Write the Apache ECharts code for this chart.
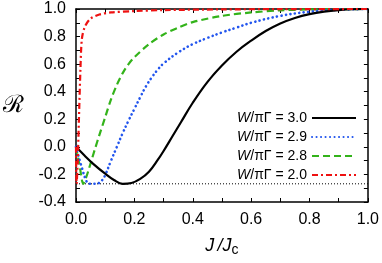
<!DOCTYPE html>
<html><head><meta charset="utf-8">
<script src="https://cdn.jsdelivr.net/npm/echarts@6/dist/echarts.min.js"></script>
<style>html,body{margin:0;padding:0;background:#fff}#c{width:382px;height:263px}</style>
</head><body><div id="c"></div>
<script>
// Data
var seriesNames = ['3.0', '2.9', '2.8', '2.0'];
var jBlack = [0, 0.03, 0.06, 0.1, 0.13, 0.16, 0.19, 0.22, 0.25, 0.28, 0.3, 0.33, 0.36, 0.4, 0.45, 0.5, 0.55, 0.6, 0.65, 0.7, 0.75, 0.8, 0.85, 0.9, 0.95, 1.0];
var rBlack = [0, -0.065, -0.125, -0.195, -0.24, -0.268, -0.262, -0.232, -0.18, -0.095, -0.03, 0.075, 0.18, 0.32, 0.47, 0.59, 0.69, 0.77, 0.84, 0.895, 0.935, 0.963, 0.981, 0.992, 0.998, 1.0];
var jBlue = [0, 0.02, 0.035, 0.045, 0.06, 0.075, 0.09, 0.1, 0.12, 0.14, 0.16, 0.18, 0.2, 0.22, 0.24, 0.26, 0.28, 0.3, 0.35, 0.4, 0.45, 0.5, 0.55, 0.6, 0.7, 0.8, 0.9, 1.0];
var rBlue = [0, -0.15, -0.245, -0.268, -0.268, -0.265, -0.24, -0.205, -0.1, 0.0, 0.1, 0.19, 0.275, 0.36, 0.44, 0.505, 0.56, 0.605, 0.685, 0.745, 0.79, 0.83, 0.865, 0.9, 0.95, 0.98, 0.995, 1.0];
var jGreen = [0, 0.012, 0.025, 0.035, 0.045, 0.055, 0.065, 0.08, 0.1, 0.12, 0.14, 0.16, 0.18, 0.2, 0.25, 0.3, 0.35, 0.4, 0.5, 0.6, 0.7, 0.8, 1.0];
var rGreen = [0, -0.13, -0.268, -0.22, -0.155, -0.085, -0.015, 0.085, 0.215, 0.345, 0.45, 0.535, 0.6, 0.65, 0.745, 0.815, 0.865, 0.905, 0.95, 0.975, 0.99, 0.997, 1.0];
var jRed = [0, 0.002, 0.006, 0.01, 0.015, 0.02, 0.03, 0.05, 0.08, 0.12, 0.2, 0.3, 0.5, 0.7, 1.0];
var rRed = [0, -0.268, -0.1, 0.2, 0.55, 0.78, 0.87, 0.93, 0.96, 0.975, 0.985, 0.992, 0.997, 0.999, 1.0];
var rMinLine = -0.268;
var xTicks = [0, 0.2, 0.4, 0.6, 0.8, 1.0];
var yTicks = [-0.4, -0.2, 0, 0.2, 0.4, 0.6, 0.8, 1.0];

function pairs(xs, ys) { return xs.map(function (x, i) { return [x, ys[i]]; }); }

var chart = echarts.init(document.getElementById('c'), null, {renderer: 'canvas'});
var font = 'Liberation Sans';
var axisCommon = {
  type: 'value', splitLine: {show: false},
  axisLine: {show: true, onZero: false, lineStyle: {color: '#000', width: 1.5}},
  axisTick: {show: true, inside: true, length: 4, lineStyle: {color: '#000', width: 1}},
  minorTick: {show: true, splitNumber: 2, length: 4, lineStyle: {color: '#000', width: 1}},
  minorSplitLine: {show: false}
};
function xAx(extra) { return Object.assign({}, axisCommon, {min: 0, max: 1, interval: 0.2}, extra); }
function yAx(extra) { return Object.assign({}, axisCommon, {min: -0.4, max: 1.0, interval: 0.2}, extra); }

var option = {
  animation: false,
  backgroundColor: '#fff',
  grid: {left: 74, right: 13, top: 9, bottom: 61},
  legend: {
    orient: 'vertical', right: 20, top: 106, align: 'right',
    itemWidth: 44, itemHeight: 10, itemGap: 5,
    itemStyle: {opacity: 0},
    textStyle: {fontFamily: font, fontSize: 14, color: '#000',
      rich: {i: {fontStyle: 'italic', fontFamily: font, fontSize: 14, color: '#000'}}},
    formatter: function (n) { return '{i|W}/\u03c0\u0393 = ' + n; },
    data: seriesNames
  },
  xAxis: [
    xAx({position: 'bottom',
      axisLabel: {margin: 10, fontFamily: font, fontSize: 16, color: '#000',
        formatter: function (v) { return v.toFixed(1); }},
      name: '{i|J} {i|/}{i|J}{s|c}', nameLocation: 'middle', nameGap: 33,
      nameTextStyle: {rich: {
        i: {fontStyle: 'italic', fontFamily: font, fontSize: 18, color: '#000'},
        s: {fontFamily: font, fontSize: 14, color: '#000', verticalAlign: 'bottom', padding: [8, 0, 0, 0]}}}}),
    xAx({position: 'top', axisLabel: {show: false}})
  ],
  yAxis: [
    yAx({position: 'left',
      axisLabel: {margin: 10, fontFamily: font, fontSize: 16, color: '#000',
        formatter: function (v) { return v.toFixed(1); }},
      name: '\u211b', nameLocation: 'middle', nameRotate: 0, nameGap: 52,
      nameTextStyle: {fontFamily: 'DejaVu Serif', fontSize: 24, color: '#000'}}),
    yAx({position: 'right', axisLabel: {show: false}})
  ],
  series: [
    {name: '3.0', type: 'line', data: pairs(jBlack, rBlack), showSymbol: false, symbol: 'none', smooth: 0.4,
      color: '#000', lineStyle: {color: '#000', width: 2.2, type: 'solid'}, z: 5},
    {name: '2.9', type: 'line', data: pairs(jBlue, rBlue), showSymbol: false, symbol: 'none', smooth: 0.4,
      color: '#2255ee', lineStyle: {color: '#2255ee', width: 2.6, type: [0.1, 4.4], cap: 'round'}, z: 4},
    {name: '2.8', type: 'line', data: pairs(jGreen, rGreen), showSymbol: false, symbol: 'none', smooth: 0.3,
      color: '#33b31a', lineStyle: {color: '#33b31a', width: 2.2, type: [7, 4]}, z: 3},
    {name: '2.0', type: 'line', data: pairs(jRed, rRed), showSymbol: false, symbol: 'none', smooth: 0.3,
      color: '#ee1111', lineStyle: {color: '#ee1111', width: 2.2, type: [6, 3, 2, 3]}, z: 6},
    {name: 'min', type: 'line', data: [[0, rMinLine], [1, rMinLine]], showSymbol: false, symbol: 'none',
      lineStyle: {color: '#000', width: 1, type: [1, 2]}, z: 2}
  ]
};
chart.setOption(option);
</script></body></html>
